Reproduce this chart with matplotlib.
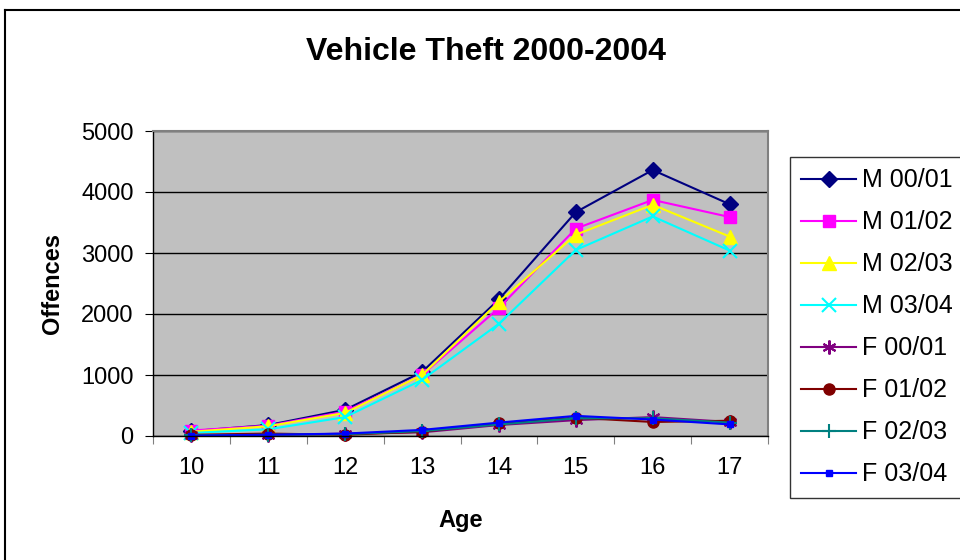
import matplotlib
matplotlib.use("Agg")
import matplotlib.pyplot as plt
from matplotlib.lines import Line2D

plt.rcParams['font.family'] = ['Liberation Sans', 'DejaVu Sans']

ages = [10, 11, 12, 13, 14, 15, 16, 17]
series_names = ['M 00/01', 'M 01/02', 'M 02/03', 'M 03/04',
                'F 00/01', 'F 01/02', 'F 02/03', 'F 03/04']
m_0001 = [80, 180, 430, 1050, 2240, 3670, 4360, 3800]
m_0102 = [90, 170, 400, 1000, 2100, 3400, 3870, 3590]
m_0203 = [70, 160, 380, 1000, 2200, 3300, 3790, 3270]
m_0304 = [50, 110, 310, 920, 1840, 3050, 3600, 3040]
f_0001 = [10, 10, 40, 60, 180, 260, 310, 230]
f_0102 = [20, 40, 20, 70, 210, 300, 230, 250]
f_0203 = [10, 20, 30, 80, 190, 290, 290, 220]
f_0304 = [5, 20, 40, 100, 220, 330, 270, 190]
all_series = [m_0001, m_0102, m_0203, m_0304, f_0001, f_0102, f_0203, f_0304]

colors = ['#000080', '#FF00FF', '#FFFF00', '#00FFFF',
          '#800080', '#800000', '#008080', '#0000FF']
markers = ['D', 's', '^', 'x', (6, 2, 0), 'o', '+', 's']
msizes = [8, 8, 10, 10, 10, 8, 10, 4.5]

fig = plt.figure(figsize=(9.6, 5.6), dpi=100)
# outer chart border (Excel style)
fig.add_artist(Line2D([5/960, 5/960], [0, 1 - 10/560], color='black', lw=1.5,
                      transform=fig.transFigure))
fig.add_artist(Line2D([5/960, 1], [1 - 10/560, 1 - 10/560], color='black', lw=1.5,
                      transform=fig.transFigure))

ax = fig.add_axes([153/960, 1 - 436/560, (768 - 153)/960, (436 - 131)/560])
ax.set_facecolor('#C0C0C0')

for name, vals, c, m, ms in zip(series_names, all_series, colors, markers, msizes):
    ax.plot(ages, vals, color=c, marker=m, markersize=ms, lw=1.5,
            markeredgewidth=1.5 if m in ('x', '+', (6, 2, 0)) else 1,
            markeredgecolor=c, markerfacecolor=c, label=name, clip_on=False)

ax.set_ylim(0, 5000)
ax.set_yticks(range(0, 5001, 1000))
ax.yaxis.grid(True, color='black', lw=1)
ax.set_axisbelow(True)

ax.set_xlim(9.5, 17.5)
ax.set_xticks([a - 0.5 for a in ages] + [17.5])
ax.set_xticklabels([])
ax.set_xticks(ages, minor=True)
ax.set_xticklabels([str(a) for a in ages], minor=True)
ax.tick_params(axis='x', which='minor', length=0, pad=15, labelsize=17)
ax.tick_params(axis='x', which='major', length=6, direction='out', color='#808080')
ax.tick_params(axis='y', length=6, direction='out', labelsize=17, pad=8)

for side in ['top', 'right']:
    ax.spines[side].set_color('#808080')
    ax.spines[side].set_linewidth(1.5)
for side in ['left', 'bottom']:
    ax.spines[side].set_color('black')
    ax.spines[side].set_linewidth(1)

ax.set_xlabel('Age', fontsize=17, fontweight='bold', labelpad=22)
ax.set_ylabel('Offences', fontsize=17, fontweight='bold', labelpad=12)
fig.text(486/960, 1 - 52/560, 'Vehicle Theft 2000-2004', fontsize=23,
         fontweight='bold', ha='center', va='center')

leg = fig.legend(loc='upper left', bbox_to_anchor=(790/960, 1 - 157/560),
                 fontsize=18, frameon=True, fancybox=False, edgecolor='black',
                 handlelength=2.2, handletextpad=0.25, labelspacing=0.72,
                 borderpad=0.45, borderaxespad=0)
leg.get_frame().set_linewidth(1)

fig.savefig('out.png', dpi=100)
